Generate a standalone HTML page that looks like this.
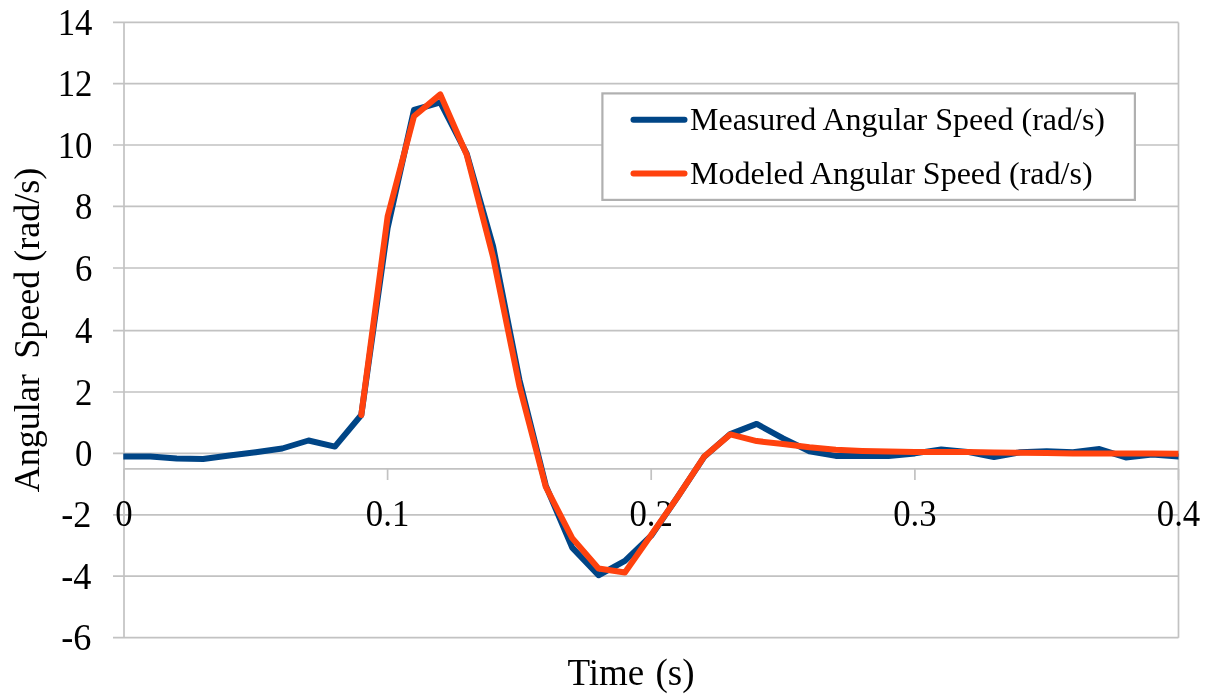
<!DOCTYPE html>
<html><head><meta charset="utf-8"><style>
html,body{margin:0;padding:0;background:#fff;}
body{width:1206px;height:699px;overflow:hidden;}
svg{display:block;will-change:transform;}
text{font-family:"Liberation Serif", serif;fill:#000;}
</style></head><body>
<svg width="1206" height="699" viewBox="0 0 1206 699">
<rect width="1206" height="699" fill="#fff"/>
<g>
<line x1="113" y1="22.40" x2="1178.5" y2="22.40" stroke="#c2c2c2" stroke-width="1.7"/>
<line x1="113" y1="83.65" x2="1178.5" y2="83.65" stroke="#c2c2c2" stroke-width="1.7"/>
<line x1="113" y1="145.00" x2="1178.5" y2="145.00" stroke="#c2c2c2" stroke-width="1.7"/>
<line x1="113" y1="206.40" x2="1178.5" y2="206.40" stroke="#c2c2c2" stroke-width="1.7"/>
<line x1="113" y1="268.00" x2="1178.5" y2="268.00" stroke="#c2c2c2" stroke-width="1.7"/>
<line x1="113" y1="330.60" x2="1178.5" y2="330.60" stroke="#c2c2c2" stroke-width="1.7"/>
<line x1="113" y1="392.00" x2="1178.5" y2="392.00" stroke="#c2c2c2" stroke-width="1.7"/>
<line x1="113" y1="453.40" x2="1178.5" y2="453.40" stroke="#c2c2c2" stroke-width="1.7"/>
<line x1="113" y1="514.80" x2="1178.5" y2="514.80" stroke="#c2c2c2" stroke-width="1.7"/>
<line x1="113" y1="576.20" x2="1178.5" y2="576.20" stroke="#c2c2c2" stroke-width="1.7"/>
<line x1="113" y1="637.60" x2="1178.5" y2="637.60" stroke="#c2c2c2" stroke-width="1.7"/>
<line x1="124.0" y1="22.50" x2="124.0" y2="637.70" stroke="#c2c2c2" stroke-width="1.7"/>
<line x1="1178.5" y1="22.50" x2="1178.5" y2="637.70" stroke="#c2c2c2" stroke-width="1.7"/>
<line x1="124.0" y1="468.8" x2="1178.5" y2="468.8" stroke="#c2c2c2" stroke-width="1.7"/>
<line x1="124.0" y1="468.8" x2="124.0" y2="480" stroke="#c2c2c2" stroke-width="1.7"/>
<line x1="387.6" y1="468.8" x2="387.6" y2="480" stroke="#c2c2c2" stroke-width="1.7"/>
<line x1="651.2" y1="468.8" x2="651.2" y2="480" stroke="#c2c2c2" stroke-width="1.7"/>
<line x1="914.9" y1="468.8" x2="914.9" y2="480" stroke="#c2c2c2" stroke-width="1.7"/>
<line x1="1178.5" y1="468.8" x2="1178.5" y2="480" stroke="#c2c2c2" stroke-width="1.7"/>
</g>
<g font-size="37">
<text transform="translate(92.5,34.9) scale(0.94,1)" text-anchor="end">14</text>
<text transform="translate(92.5,96.2) scale(0.94,1)" text-anchor="end">12</text>
<text transform="translate(92.5,157.5) scale(0.94,1)" text-anchor="end">10</text>
<text transform="translate(92.5,218.9) scale(0.94,1)" text-anchor="end">8</text>
<text transform="translate(92.5,280.5) scale(0.94,1)" text-anchor="end">6</text>
<text transform="translate(92.5,343.1) scale(0.94,1)" text-anchor="end">4</text>
<text transform="translate(92.5,404.5) scale(0.94,1)" text-anchor="end">2</text>
<text transform="translate(92.5,465.9) scale(0.94,1)" text-anchor="end">0</text>
<text transform="translate(91.5,527.3) scale(0.98,1)" text-anchor="end">-2</text>
<text transform="translate(91.5,588.7) scale(0.98,1)" text-anchor="end">-4</text>
<text transform="translate(91.5,650.1) scale(0.98,1)" text-anchor="end">-6</text>
<text transform="translate(124.0,525.6) scale(0.94,1)" text-anchor="middle">0</text>
<text transform="translate(387.6,525.6) scale(0.94,1)" text-anchor="middle">0.1</text>
<text transform="translate(651.2,525.6) scale(0.94,1)" text-anchor="middle">0.2</text>
<text transform="translate(914.9,525.6) scale(0.94,1)" text-anchor="middle">0.3</text>
<text transform="translate(1178.5,525.6) scale(0.94,1)" text-anchor="middle">0.4</text>
<text x="631" y="684.6" text-anchor="middle" word-spacing="2">Time (s)</text>
<text transform="translate(39,330) rotate(-90)" text-anchor="middle" font-size="36">Angular<tspan dx="6.5"> Speed (rad/s)</tspan></text>
</g>
<defs><clipPath id="pc"><rect x="123.3" y="0" width="1055.2" height="699"/></clipPath></defs>
<g clip-path="url(#pc)">
<polyline points="124.0,456.5 150.4,456.5 176.7,458.6 203.1,458.9 229.4,455.5 255.8,452.2 282.2,448.5 308.5,440.5 334.9,446.6 361.3,415.0 387.6,228.0 414.0,110.0 440.3,102.4 466.7,153.6 493.1,246.4 519.4,379.7 545.8,485.6 572.2,547.6 598.5,575.3 624.9,560.9 651.2,535.7 677.6,497.0 704.0,457.1 730.3,434.1 756.7,423.9 783.1,438.4 809.4,451.3 835.8,455.9 862.2,455.9 888.5,455.9 914.9,453.4 941.2,449.4 967.6,451.9 994.0,457.1 1020.3,452.2 1046.7,451.3 1073.0,452.2 1099.4,449.1 1125.8,457.4 1152.1,454.6 1178.5,456.5" fill="none" stroke="#004586" stroke-width="6" stroke-linejoin="round" stroke-linecap="round"/>
<polyline points="361.3,415.0 387.6,216.6 414.0,116.2 440.3,94.4 466.7,154.8 493.1,257.2 519.4,385.9 545.8,486.9 572.2,538.1 598.5,568.5 624.9,572.5 651.2,535.1 677.6,497.0 704.0,456.8 730.3,434.4 756.7,441.1 783.1,443.9 809.4,447.3 835.8,449.7 862.2,450.9 888.5,451.6 914.9,451.9 941.2,451.9 967.6,451.9 994.0,452.5 1020.3,452.8 1046.7,453.1 1073.0,453.4 1099.4,453.4 1125.8,453.4 1152.1,453.4 1178.5,453.7" fill="none" stroke="#ff420e" stroke-width="6" stroke-linejoin="round" stroke-linecap="round"/>
</g>
<rect x="602.4" y="93.4" width="532.5" height="106.5" fill="#fff" stroke="#b0b0b0" stroke-width="2.2"/>
<line x1="633.5" y1="119.7" x2="684.5" y2="119.7" stroke="#004586" stroke-width="6" stroke-linecap="round"/>
<line x1="633.5" y1="173.6" x2="684.5" y2="173.6" stroke="#ff420e" stroke-width="6" stroke-linecap="round"/>
<text x="690" y="130.1" font-size="32">Measured Angular Speed (rad/s)</text>
<text x="690" y="183.9" font-size="32">Modeled Angular Speed (rad/s)</text>
</svg>
</body></html>
